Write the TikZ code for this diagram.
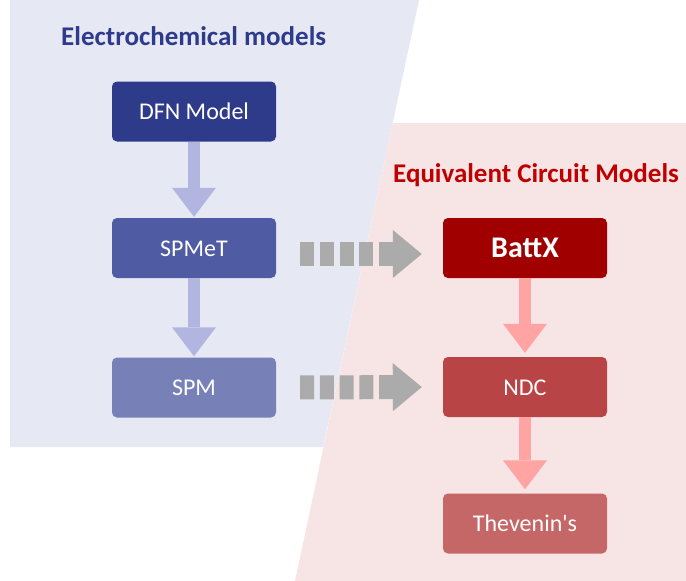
\documentclass[tikz,border=0pt]{standalone}
\usepackage{fontspec}
\setmainfont{Carlito}
\usepackage{xcolor}
\usepackage{tikz}
\usetikzlibrary{arrows.meta}

\definecolor{echemback}{HTML}{E6E9F3}
\definecolor{ecmback}{HTML}{F7E4E5}
\definecolor{echemtitle}{HTML}{2E3A8C}
\definecolor{ecmtitle}{HTML}{C00000}
\definecolor{dfncol}{HTML}{2E3A8A}
\definecolor{spmetcol}{HTML}{4F5BA3}
\definecolor{spmcol}{HTML}{7880B8}
\definecolor{battxcol}{HTML}{A00000}
\definecolor{ndccol}{HTML}{B84446}
\definecolor{thevcol}{HTML}{C66767}
\definecolor{bluearrow}{HTML}{B1B5E0}
\definecolor{redarrow}{HTML}{FFA3A3}
\definecolor{grayarrow}{HTML}{ABABAB}

\begin{document}
\begin{tikzpicture}[x=1pt,y=-1pt,
        model/.style={rounded corners=5pt,minimum width=164pt,minimum height=60pt,inner sep=0pt,
            text=white,font=\fontsize{24}{24}\selectfont,text height=16pt,text depth=0pt},
        grouptitle/.style={anchor=base west,inner sep=0pt,font=\bfseries\fontsize{27}{27}\selectfont},
        flow/.style={line width=12pt,-{Triangle[width=44pt,length=29pt,line width=0pt]}},
        link/.style={draw=grayarrow,line width=24pt,dash pattern=on 14pt off 5.75pt,
            shorten <=24pt,shorten >=21pt,-{Triangle[width=48pt,length=29pt,line width=0pt]}}]
        \useasboundingbox (0,0) rectangle (686,581);
        \fill[echemback] (10,0) -- (419,0) -- (323.3,447) -- (10,447) -- cycle;
        \fill[ecmback] (392.7,123) -- (686,123) -- (686,581) -- (295,581) -- cycle;

        \node[grouptitle,text=echemtitle] (echem) at (61,45) {Electrochemical models};
        \node[grouptitle,text=ecmtitle] (ecm) at (393,182) {Equivalent Circuit Models};

        \node[model,fill=dfncol] (dfn) at (194,111.5) {DFN Model};
        \node[model,fill=spmetcol] (spmet) at (194,248) {SPMeT};
        \node[model,fill=spmcol] (spm) at (194,387.5) {SPM};
        \node[model,fill=battxcol,font=\bfseries\fontsize{30}{30}\selectfont,text height=19pt] (battx) at (525,248) {BattX};
        \node[model,fill=ndccol] (ndc) at (525,387) {NDC};
        \node[model,fill=thevcol] (thev) at (525,523.5) {Thevenin\textquotesingle s};

        \draw[flow,bluearrow] (dfn.south) -- ([yshift=1pt]spmet.north);
        \draw[flow,bluearrow] (spmet.south) -- ([yshift=1pt]spm.north);
        \draw[flow,redarrow] (battx.south) -- ([yshift=4pt]ndc.north);
        \draw[flow,redarrow] (ndc.south) -- ([yshift=4pt]thev.north);

        \draw[link] ([yshift=-6pt]spmet.east) -- ([yshift=-6pt]battx.west);
        \draw[link] (spm.east) -- (ndc.west);
    \end{tikzpicture}
\end{document}
